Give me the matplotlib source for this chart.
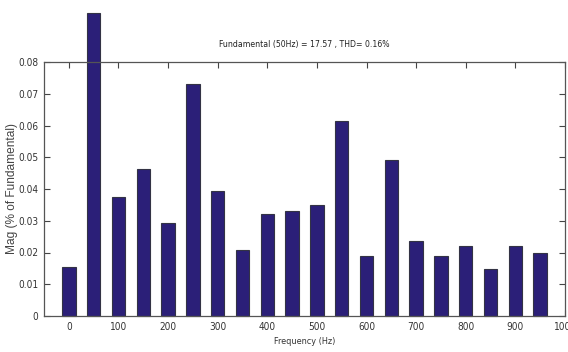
import matplotlib
matplotlib.use("Agg")
import matplotlib.pyplot as plt
from matplotlib import font_manager as fm

# Harmonic spectrum (magnitude as % of fundamental)
freqs = [0, 50, 100, 150, 200, 250, 300, 350, 400, 450,
         500, 550, 600, 650, 700, 750, 800, 850, 900, 950]
mags = [0.0155, 0.0953, 0.0376, 0.0464, 0.0292, 0.0731, 0.0395, 0.0207, 0.0322, 0.0331,
        0.0349, 0.0615, 0.0189, 0.0491, 0.0236, 0.0190, 0.0220, 0.0147, 0.0220, 0.0197]
xticks = [0, 100, 200, 300, 400, 500, 600, 700, 800, 900, 1000]
yticks = [0, 0.01, 0.02, 0.03, 0.04, 0.05, 0.06, 0.07, 0.08]
title = "Fundamental (50Hz) = 17.57 , THD= 0.16%"

# Pick a narrow face for the annotations when one is available
faces = fm.fontManager.ttflist
if any(f.name == "Liberation Sans Narrow" for f in faces):
    narrow = dict(family=["Liberation Sans Narrow", "DejaVu Sans"], stretch="normal")
    scale = 1.0
elif any(f.name == "DejaVu Sans" and f.stretch == "condensed" for f in faces):
    narrow = dict(family=["DejaVu Sans"], stretch="condensed")
    scale = 0.9
else:
    narrow = dict(family=["Liberation Sans", "DejaVu Sans"], stretch="normal")
    scale = 0.82

fig = plt.figure(figsize=(5.68, 3.52), dpi=100)
ax = fig.add_axes([44 / 568, 1 - 316 / 352, 521 / 568, 254 / 352])

bars = ax.bar(freqs, mags, width=27, color="#2b1f78", edgecolor="#333344",
              linewidth=0.8, zorder=2)
for b in bars:
    b.set_clip_on(False)

ax.set_xlim(-50, 1000)
ax.set_ylim(0, 0.08)
ax.set_xticks(xticks)
ax.set_xticklabels([str(t) for t in xticks])
ax.set_yticks(yticks)
ax.set_yticklabels(["0"] + [f"{t:.2f}" for t in yticks[1:]])

ax.tick_params(direction="in", length=4, width=0.8, colors="#444444",
               labelcolor="#333333", top=True, right=True, pad=4)
for lab in ax.get_xticklabels() + ax.get_yticklabels():
    lab.set_fontfamily(narrow["family"])
    lab.set_fontstretch(narrow["stretch"])
    lab.set_fontsize(8 * scale)
for s in ax.spines.values():
    s.set_color("#555555")
    s.set_linewidth(0.9)

ax.set_title(title, fontsize=6.9 * scale, color="#222222", pad=11, **narrow)
ax.set_xlabel("Frequency (Hz)", fontsize=7.2 * scale, color="#333333",
              labelpad=4, **narrow)
ax.set_ylabel("Mag (% of Fundamental)", fontsize=8.6, color="#444444",
              family=["Liberation Sans", "DejaVu Sans"])
ax.yaxis.set_label_coords(-0.05, 0.5)

fig.savefig("out.png", dpi=100)
